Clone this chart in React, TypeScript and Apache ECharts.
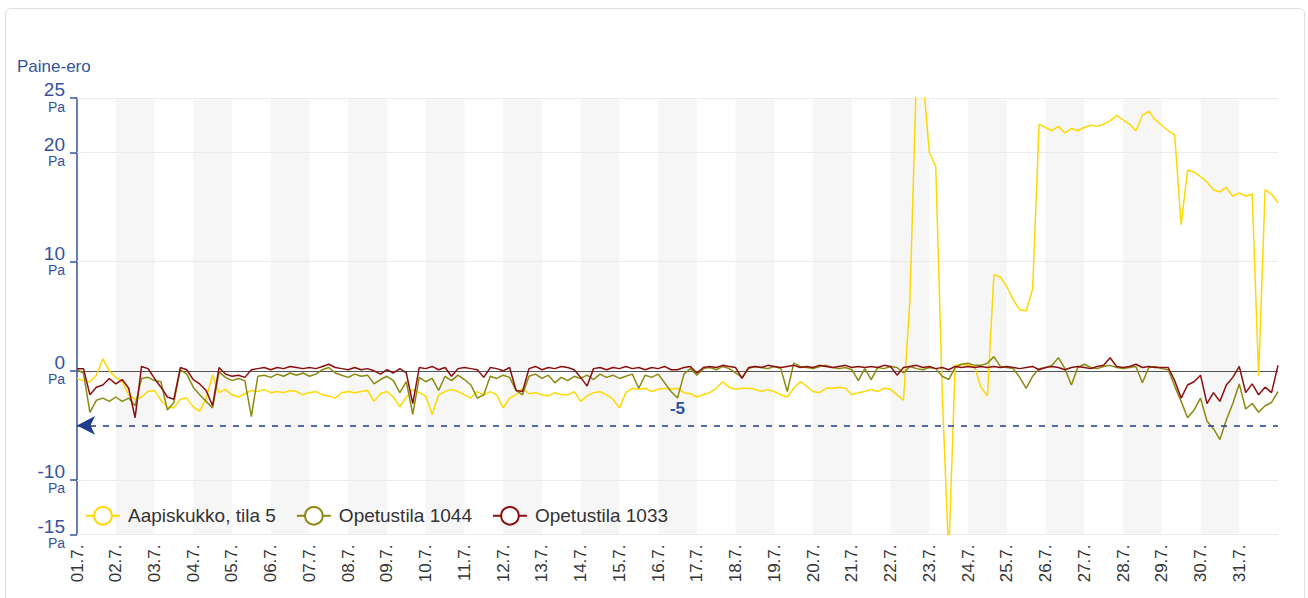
import React, { useEffect, useRef } from 'react';
import * as echarts from 'echarts';

// x axis: days since 01.7. 00:00, one value every 4 hours
const STEP_HOURS = 4;
const dayLabels = [
  '01.7.', '02.7.', '03.7.', '04.7.', '05.7.', '06.7.', '07.7.', '08.7.', '09.7.', '10.7.',
  '11.7.', '12.7.', '13.7.', '14.7.', '15.7.', '16.7.', '17.7.', '18.7.', '19.7.', '20.7.',
  '21.7.', '22.7.', '23.7.', '24.7.', '25.7.', '26.7.', '27.7.', '28.7.', '29.7.', '30.7.', '31.7.',
];
const yTickValues = [-15, -10, 0, 10, 20, 25];
const gridLineValues = [-15, -10, 10, 20, 25];
const limitValue = -5;
const seriesNames = ['Aapiskukko, tila 5', 'Opetustila 1044', 'Opetustila 1033'];

const aapiskukko = [
  -0.7, -0.9, -1.0, -0.4, 1.1, 0.0, -0.6, -1.0, -2.2, -2.6,
  -2.4, -1.9, -1.8, -2.7, -3.3, -3.4, -2.6, -2.5, -3.3, -3.7,
  -2.5, -0.4, -2.0, -1.7, -2.2, -2.4, -2.1, -1.8, -1.9, -1.7,
  -2.0, -1.9, -2.0, -1.8, -1.9, -2.2, -2.0, -1.9, -2.2, -2.3,
  -2.5, -2.0, -1.9, -2.0, -1.9, -1.8, -2.8,
  -2.1, -1.9, -2.4, -3.3, -2.4, -1.7, -2.0, -2.3, -4.0, -2.2,
  -1.9, -1.7, -1.9, -2.2, -2.5, -1.9, -2.2, -1.9, -2.2, -3.4,
  -2.5, -2.2, -1.6, -2.1, -2.0, -2.2, -2.3, -2.0, -2.2, -2.2,
  -1.9, -2.8, -2.3, -2.0, -1.9, -2.2, -2.6, -3.4, -2.0, -1.6,
  -1.7, -1.6, -1.9, -1.7, -1.6, -1.7,
  -1.6, -2.0, -2.1, -2.4, -2.2, -2.0, -1.6, -1.0, -1.5, -1.7,
  -1.6, -1.6, -1.7, -1.9, -1.7, -1.9, -2.2, -2.4, -1.6, -1.0,
  -1.4, -1.9, -2.0, -1.6, -1.6, -1.5, -1.6, -2.2, -2.0, -1.9,
  -1.7, -1.9, -1.6, -1.7, -2.2, -2.7,
  6.5, 27, 27, 20.0, 18.7, -2.0, -17, 0.5, 0.6, 0.5,
  0.4, -1.5, -2.3, 8.8, 8.6, 7.7, 6.5, 5.6, 5.5, 7.5,
  22.6, 22.3, 22.0, 22.4, 21.8, 22.2, 22.0, 22.3, 22.5, 22.4,
  22.6, 22.9, 23.4, 23.0, 22.6, 22.0, 23.4, 23.8, 23.0, 22.5,
  22.0, 21.6, 13.4, 18.4, 18.2, 17.8, 17.3, 16.6, 16.4, 16.8,
  16.0, 16.3, 16.0, 16.2, -0.5, 16.6, 16.2, 15.4,
];

const opetustila1044 = [
  0.1, -0.2, -3.8, -2.7, -2.5, -2.8, -2.4, -2.8, -2.5, -3.2,
  -0.7, -0.6, -0.9, -1.0, -3.6, -2.9, 0.1, -0.3, -1.5, -2.2,
  -2.8, -3.4, -0.1, -0.6, -0.9, -0.7, -0.9, -4.2, -0.5, -0.4,
  -0.6, -0.3, -0.5, -0.2, -0.4, -0.2, -0.5, -0.3, 0.1, 0.3,
  -0.2, -0.4, -0.6, -0.3, -0.5, -0.4, -1.2,
  -0.8, -0.5, -0.9, -2.0, -1.0, -4.0, -0.6, -1.0, -0.7, -1.8,
  -0.5, -0.9, -0.4, -0.8, -1.3, -2.5, -2.2, -0.5, -0.7, -0.4,
  -0.6, -1.8, -2.2, -0.5, -0.3, -0.7, -0.4, -1.1, -0.6, -0.9,
  -0.5, -0.7, -0.4, -0.8, -0.3, -0.6, -0.4, -0.7, -0.5, -0.3,
  -1.6, -0.4, -0.6, -0.3, -1.1, -1.9,
  -2.5, -0.3, 0.2, -0.4, 0.2, 0.3, 0.1, 0.4, 0.2, -0.2,
  -0.6, 0.2, 0.4, 0.3, 0.2, 0.4, 0.2, -1.9, 0.7, 0.4,
  0.3, 0.2, 0.4, 0.5, 0.3, 0.2, 0.3, 0.1, -0.9, 0.2,
  -0.8, 0.3, 0.2, 0.4, 0.3, -0.2, 0.4, 0.2, 0.1, 0.3,
  0.2, -0.5, -0.8, 0.3, 0.6, 0.7, 0.5,
  0.5, 0.7, 1.3, 0.4, 0.3, 0.2, -0.6, -1.6, -0.5, 0.2,
  0.3, 0.5, 1.2, 0.2, -1.3, 0.3, 0.6, 0.3, 0.2, 0.4,
  0.5, 0.3, 0.2, 0.3, 0.4, -1.1, 0.3, 0.4, 0.2, 0.1,
  -1.4, -2.8, -4.3, -3.6, -2.5, -4.6, -5.3, -6.3, -4.5, -3.0,
  -1.2, -3.5, -3.0, -3.8, -3.2, -2.9, -1.9,
];

const opetustila1033 = [
  0.2, 0.2, -2.2, -1.5, -1.3, -0.7, -1.2, -0.8, -1.6, -4.3,
  0.4, 0.2, -0.7, -1.5, -2.4, -2.6, 0.3, 0.1, -0.8, -1.2,
  -1.8, -3.2, 0.3, -0.3, -0.5, -0.4, -0.6, 0.1, 0.2, 0.3,
  0.1, 0.3, 0.2, 0.4, 0.3, 0.2, 0.3, 0.2, 0.4, 0.6,
  0.3, 0.2, 0.1, 0.3, 0.1, 0.2, 0.0,
  -0.3, 0.1, -0.2, 0.2, -0.2, -3.0, 0.3, 0.2, 0.4, 0.1,
  0.3, -0.5, 0.2, 0.3, 0.2, 0.1, -0.6, 0.3, 0.2, 0.0,
  0.3, -1.8, -1.9, 0.2, 0.4, 0.1, 0.3, 0.2, 0.4, 0.3,
  0.1, -0.6, -1.4, 0.2, 0.3, 0.1, 0.3, 0.2, 0.4, 0.2,
  0.3, 0.1, 0.3, 0.2, 0.4, 0.1,
  0.1, 0.3, 0.4, -0.2, 0.3, 0.4, 0.3, 0.5, 0.4, 0.3,
  -0.7, 0.3, 0.4, 0.3, 0.5, 0.4, 0.3, 0.4, 0.5, 0.3,
  0.4, 0.3, 0.5, 0.4, 0.3, 0.4, 0.5, 0.3, 0.4, 0.3,
  0.4, 0.3, 0.5, 0.4, -0.4, 0.3, 0.4, 0.5, 0.3, 0.4,
  0.2, 0.3, 0.1, 0.4, 0.3, 0.4, 0.3,
  0.4, 0.3, 0.4, 0.3, 0.4, 0.3, 0.2, 0.3, 0.4, 0.1,
  0.3, 0.4, 0.3, 0.1, 0.3, 0.4, 0.3, 0.2, 0.4, 0.5,
  1.2, 0.4, 0.3, 0.4, 0.6, 0.3, 0.4, 0.3, 0.3, 0.3,
  -0.9, -2.5, -1.3, -1.0, -0.4, -3.0, -2.0, -2.8, -1.3, -0.6,
  0.4, -2.0, -1.2, -2.2, -1.5, -2.0, 0.5,
];

const FONT = '"Liberation Sans", Arial, sans-serif';
const BLUE = '#34539d';

const toPairs = (arr: number[]) => arr.map((v, i) => [(i * STEP_HOURS) / 24, v]);

export default function App() {
  const ref = useRef<HTMLDivElement>(null);
  useEffect(() => {
    if (!ref.current) return;
    const chart = echarts.init(ref.current, null, { renderer: 'svg' });
    const lineSeries = (name: string, data: number[], color: string, z: number) => ({
      name,
      type: 'line',
      data: toPairs(data),
      symbol: 'emptyCircle',
      showSymbol: false,
      z,
      lineStyle: { color, width: 1.5 },
      itemStyle: { color },
      emphasis: { disabled: true },
    });
    chart.setOption({
      animation: false,
      textStyle: { fontFamily: FONT },
      title: {
        text: 'Paine-ero',
        left: 17,
        top: 58,
        padding: 0,
        textStyle: { fontSize: 17, color: BLUE, fontWeight: 'normal', fontFamily: FONT },
      },
      legend: {
        data: seriesNames,
        left: 85,
        top: 506,
        padding: 0,
        itemWidth: 34,
        itemHeight: 22,
        itemGap: 20,
        textStyle: { fontSize: 19, color: '#333', fontFamily: FONT, padding: [0, 0, 0, 3] },
      },
      grid: { left: 77, top: 98, width: 1201, height: 436.5, containLabel: false },
      xAxis: {
        type: 'value',
        min: 0,
        max: 31,
        interval: 1,
        axisLine: { show: false },
        axisTick: { show: false },
        splitLine: { show: false },
        splitArea: { show: true, areaStyle: { color: ['rgba(255,255,255,0)', '#f6f6f6'] } },
        axisLabel: {
          rotate: 90,
          margin: 10,
          fontSize: 17,
          color: '#333',
          fontFamily: FONT,
          formatter: (v: number) => dayLabels[Math.round(v)] ?? '',
        },
      },
      yAxis: {
        type: 'value',
        min: -15,
        max: 25,
        interval: 5,
        axisLine: { show: true, lineStyle: { color: BLUE, width: 1.5 } },
        axisTick: { show: true, length: 7, customValues: yTickValues, lineStyle: { color: BLUE, width: 1.5 } },
        splitLine: { show: false },
        axisLabel: {
          customValues: yTickValues,
          margin: 12,
          formatter: (v: number) => `{v|${v}}\n{u|Pa}`,
          rich: {
            v: { fontSize: 19, color: BLUE, lineHeight: 17, align: 'right', fontFamily: FONT },
            u: { fontSize: 14, color: BLUE, lineHeight: 17, align: 'right', fontFamily: FONT },
          },
        },
      },
      series: [
        {
          name: 'gridlines',
          type: 'line',
          data: [],
          silent: true,
          z: 1,
          markLine: {
            silent: true,
            z: 1,
            symbol: 'none',
            label: { show: false },
            emphasis: { disabled: true },
            data: [
              ...gridLineValues.map((v) => ({ yAxis: v, lineStyle: { color: '#ebebeb', width: 1, type: 'solid' } })),
              { yAxis: 0, lineStyle: { color: '#555', width: 1.2, type: 'solid' } },
            ],
          },
        },
        lineSeries(seriesNames[0], aapiskukko, '#ffd800', 2),
        lineSeries(seriesNames[1], opetustila1044, '#8a8a10', 3),
        lineSeries(seriesNames[2], opetustila1033, '#8b0f0f', 4),
        {
          name: 'limit',
          type: 'line',
          data: [],
          silent: true,
          z: 5,
          markLine: {
            silent: true,
            symbol: ['arrow', 'none'],
            symbolSize: [14, 18],
            emphasis: { disabled: true },
            lineStyle: { color: '#1f3d8c', type: [6, 7], width: 1.5 },
            itemStyle: { color: '#1f3d8c' },
            label: {
              show: true,
              position: 'middle',
              formatter: String(limitValue),
              color: '#2d4f9e',
              fontSize: 17,
              fontWeight: 'bold',
              distance: 8,
              fontFamily: FONT,
            },
            data: [{ yAxis: limitValue }],
          },
        },
      ],
    });
    return () => chart.dispose();
  }, []);

  return (
    <>
      <div
        style={{
          position: 'fixed',
          left: 5,
          top: 8,
          width: 1300,
          height: 600,
          border: '1px solid #dedede',
          borderRadius: 6,
          boxSizing: 'border-box',
          background: '#fff',
        }}
      />
      <div ref={ref} style={{ position: 'fixed', left: 0, top: 0, width: 1308, height: 598 }} />
    </>
  );
}
